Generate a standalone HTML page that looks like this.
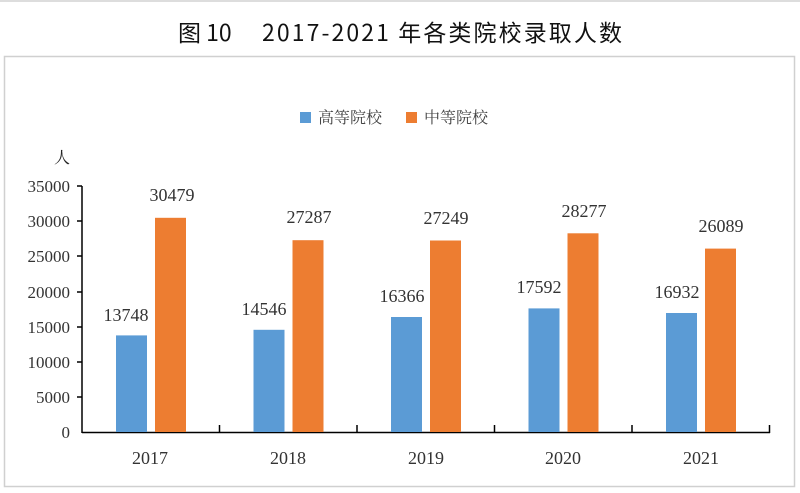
<!DOCTYPE html><html><head><meta charset="utf-8"><style>body{margin:0;background:#fff}</style></head><body>
<svg width="800" height="493" xmlns="http://www.w3.org/2000/svg" style="display:block">
<rect x="0" y="0" width="800" height="493" fill="#fff"/>
<line x1="0" y1="1" x2="800" y2="1" stroke="#bbb"/>
<text x="178" y="41" font-family="Noto Sans CJK SC, sans-serif" font-size="23" fill="#111">图 10</text>
<text x="262" y="41" font-family="Noto Sans CJK SC, sans-serif" font-size="23" fill="#111" textLength="360">2017-2021 年各类院校录取人数</text>
<rect x="4.5" y="56.5" width="790" height="430" fill="none" stroke="#d0d0d0" stroke-width="1.5"/>
<rect x="300" y="112" width="11" height="11" fill="#5b9bd5"/>
<text x="318" y="123" font-family="Noto Serif CJK SC, serif" font-size="16" fill="#444">高等院校</text>
<rect x="406" y="112" width="11" height="11" fill="#ed7d31"/>
<text x="424" y="123" font-family="Noto Serif CJK SC, serif" font-size="16" fill="#444">中等院校</text>
<text x="62" y="163" text-anchor="middle" font-family="Noto Serif CJK SC, serif" font-size="16" fill="#222">人</text>
<g font-family="Liberation Serif, serif" font-size="17" fill="#333" text-anchor="end">
<text x="70" y="192">35000</text><text x="70" y="227">30000</text><text x="70" y="262">25000</text><text x="70" y="298">20000</text><text x="70" y="333">15000</text><text x="70" y="368">10000</text><text x="70" y="403">5000</text><text x="70" y="438">0</text>
</g>
<g stroke="#000" stroke-width="1.5">
<line x1="82" y1="186" x2="82" y2="433"/>
<line x1="82" y1="432.5" x2="770" y2="432.5"/>
<line x1="77" y1="186" x2="82" y2="186"/><line x1="77" y1="221" x2="82" y2="221"/><line x1="77" y1="256" x2="82" y2="256"/><line x1="77" y1="292" x2="82" y2="292"/><line x1="77" y1="327" x2="82" y2="327"/><line x1="77" y1="362" x2="82" y2="362"/><line x1="77" y1="397" x2="82" y2="397"/>
<line x1="219.5" y1="425" x2="219.5" y2="433"/><line x1="357" y1="425" x2="357" y2="433"/><line x1="494.5" y1="425" x2="494.5" y2="433"/><line x1="632" y1="425" x2="632" y2="433"/><line x1="769.5" y1="425" x2="769.5" y2="433"/>
</g>
<g>
<rect x="116" y="335.4" width="31" height="96.6" fill="#5b9bd5"/><rect x="155" y="217.8" width="31" height="214.2" fill="#ed7d31"/>
<rect x="253.5" y="329.8" width="31" height="102.2" fill="#5b9bd5"/><rect x="292.5" y="240.2" width="31" height="191.8" fill="#ed7d31"/>
<rect x="391" y="317" width="31" height="115" fill="#5b9bd5"/><rect x="430" y="240.5" width="31" height="191.5" fill="#ed7d31"/>
<rect x="528.5" y="308.4" width="31" height="123.6" fill="#5b9bd5"/><rect x="567.5" y="233.3" width="31" height="198.7" fill="#ed7d31"/>
<rect x="666" y="313" width="31" height="119" fill="#5b9bd5"/><rect x="705" y="248.6" width="31" height="183.4" fill="#ed7d31"/>
</g>
<g font-family="Liberation Serif, serif" font-size="18" fill="#333" text-anchor="middle">
<text x="126" y="321">13748</text><text x="172" y="201">30479</text>
<text x="264" y="315">14546</text><text x="309" y="223">27287</text>
<text x="402" y="302">16366</text><text x="446" y="224">27249</text>
<text x="539" y="293">17592</text><text x="584" y="217">28277</text>
<text x="677" y="298">16932</text><text x="721" y="232">26089</text>
</g>
<g font-family="Liberation Serif, serif" font-size="18" fill="#333" text-anchor="middle">
<text x="150" y="464">2017</text><text x="288" y="464">2018</text><text x="426" y="464">2019</text><text x="563" y="464">2020</text><text x="701" y="464">2021</text>
</g>
</svg></body></html>
